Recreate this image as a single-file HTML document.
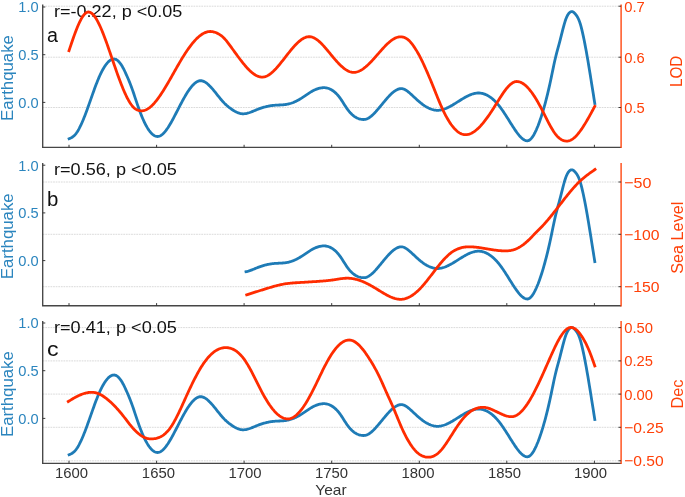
<!DOCTYPE html>
<html><head><meta charset="utf-8"><title>chart</title>
<style>html,body{margin:0;padding:0;background:#fff;}svg{display:block;will-change:transform;}text{font-family:"Liberation Sans",sans-serif;}</style></head>
<body>
<svg width="685" height="497" viewBox="0 0 685 497">
<line x1="42.7" x2="621.1" y1="6.2" y2="6.2" stroke="#cdcdcd" stroke-width="0.75" stroke-dasharray="1.75 0.85"/>
<line x1="42.7" x2="621.1" y1="57.2" y2="57.2" stroke="#cdcdcd" stroke-width="0.75" stroke-dasharray="1.75 0.85"/>
<line x1="42.7" x2="621.1" y1="107.5" y2="107.5" stroke="#cdcdcd" stroke-width="0.75" stroke-dasharray="1.75 0.85"/>
<text x="54.0" y="17.2" font-size="15.9" fill="#111111" textLength="128.36" lengthAdjust="spacingAndGlyphs">r=-0.22, p &lt;0.05</text>
<text x="47.0" y="42.0" font-size="19.4" fill="#111111" text-anchor="start" textLength="10.97" lengthAdjust="spacingAndGlyphs">a</text>
<path d="M69.10 138.70 L69.85 138.39 L70.60 138.05 L71.35 137.67 L72.10 137.24 L72.85 136.74 L73.60 136.16 L74.35 135.48 L75.10 134.70 L75.85 133.80 L76.60 132.79 L77.35 131.67 L78.10 130.44 L78.85 129.12 L79.60 127.71 L80.35 126.20 L81.10 124.62 L81.85 122.96 L82.60 121.23 L83.35 119.44 L84.10 117.58 L84.85 115.67 L85.60 113.71 L86.35 111.71 L87.10 109.67 L87.85 107.60 L88.60 105.51 L89.35 103.39 L90.10 101.26 L90.85 99.13 L91.60 96.99 L92.35 94.86 L93.10 92.75 L93.85 90.66 L94.60 88.60 L95.35 86.57 L96.10 84.58 L96.85 82.64 L97.60 80.75 L98.35 78.93 L99.10 77.17 L99.85 75.49 L100.60 73.87 L101.35 72.34 L102.10 70.87 L102.85 69.49 L103.60 68.19 L104.35 66.96 L105.10 65.82 L105.85 64.76 L106.60 63.78 L107.35 62.89 L108.10 62.09 L108.85 61.38 L109.60 60.76 L110.35 60.23 L111.10 59.79 L111.85 59.45 L112.60 59.20 L113.35 59.05 L114.10 59.00 L114.86 59.07 L115.62 59.29 L116.38 59.64 L117.15 60.12 L117.91 60.73 L118.67 61.46 L119.43 62.32 L120.19 63.28 L120.95 64.36 L121.71 65.55 L122.48 66.83 L123.24 68.22 L124.00 69.70 L124.76 71.26 L125.52 72.89 L126.28 74.57 L127.04 76.29 L127.81 78.01 L128.57 79.77 L129.33 81.59 L130.09 83.47 L130.85 85.45 L131.61 87.51 L132.37 89.64 L133.14 91.83 L133.90 94.06 L134.66 96.33 L135.42 98.61 L136.18 100.88 L136.94 103.14 L137.70 105.37 L138.46 107.56 L139.23 109.68 L139.99 111.73 L140.75 113.72 L141.51 115.63 L142.27 117.47 L143.03 119.23 L143.79 120.92 L144.56 122.53 L145.32 124.06 L146.08 125.51 L146.84 126.88 L147.60 128.16 L148.36 129.36 L149.12 130.47 L149.89 131.49 L150.65 132.42 L151.41 133.26 L152.17 134.01 L152.93 134.66 L153.69 135.22 L154.45 135.67 L155.22 136.03 L155.98 136.29 L156.74 136.45 L157.50 136.50 L158.26 136.44 L159.01 136.28 L159.77 136.01 L160.52 135.64 L161.28 135.18 L162.04 134.63 L162.79 133.99 L163.55 133.26 L164.31 132.46 L165.06 131.58 L165.82 130.64 L166.57 129.63 L167.33 128.56 L168.09 127.43 L168.84 126.25 L169.60 125.02 L170.35 123.75 L171.11 122.43 L171.87 121.09 L172.62 119.71 L173.38 118.31 L174.14 116.88 L174.89 115.43 L175.65 113.98 L176.40 112.51 L177.16 111.04 L177.92 109.56 L178.67 108.09 L179.43 106.63 L180.18 105.18 L180.94 103.74 L181.70 102.32 L182.45 100.91 L183.21 99.53 L183.96 98.17 L184.72 96.84 L185.48 95.54 L186.23 94.27 L186.99 93.05 L187.75 91.86 L188.50 90.71 L189.26 89.61 L190.01 88.56 L190.77 87.56 L191.53 86.62 L192.28 85.74 L193.04 84.91 L193.79 84.15 L194.55 83.46 L195.31 82.84 L196.06 82.29 L196.82 81.82 L197.58 81.42 L198.33 81.11 L199.09 80.88 L199.84 80.75 L200.60 80.70 L201.36 80.74 L202.11 80.87 L202.87 81.08 L203.63 81.36 L204.39 81.72 L205.14 82.14 L205.90 82.63 L206.66 83.18 L207.41 83.78 L208.17 84.44 L208.93 85.14 L209.69 85.88 L210.44 86.67 L211.20 87.49 L211.96 88.34 L212.71 89.21 L213.47 90.11 L214.23 91.03 L214.99 91.96 L215.74 92.91 L216.50 93.86 L217.26 94.81 L218.01 95.77 L218.77 96.71 L219.53 97.65 L220.29 98.58 L221.04 99.49 L221.80 100.38 L222.56 101.24 L223.31 102.07 L224.07 102.87 L224.83 103.64 L225.59 104.37 L226.34 105.07 L227.10 105.74 L227.86 106.39 L228.61 107.01 L229.37 107.60 L230.13 108.17 L230.89 108.73 L231.64 109.26 L232.40 109.77 L233.16 110.25 L233.91 110.71 L234.67 111.15 L235.43 111.56 L236.19 111.95 L236.94 112.31 L237.70 112.63 L238.46 112.93 L239.21 113.18 L239.97 113.40 L240.73 113.57 L241.49 113.70 L242.24 113.77 L243.00 113.80 L243.75 113.78 L244.50 113.72 L245.25 113.63 L246.00 113.51 L246.75 113.35 L247.51 113.17 L248.26 112.97 L249.01 112.74 L249.76 112.49 L250.51 112.23 L251.26 111.95 L252.01 111.66 L252.76 111.36 L253.51 111.05 L254.26 110.74 L255.01 110.42 L255.77 110.11 L256.52 109.80 L257.27 109.49 L258.02 109.19 L258.77 108.90 L259.52 108.63 L260.27 108.36 L261.02 108.10 L261.77 107.86 L262.52 107.62 L263.27 107.40 L264.03 107.18 L264.78 106.98 L265.53 106.78 L266.28 106.60 L267.03 106.43 L267.78 106.27 L268.53 106.11 L269.28 105.97 L270.03 105.84 L270.78 105.72 L271.54 105.61 L272.29 105.51 L273.04 105.43 L273.79 105.35 L274.54 105.28 L275.29 105.22 L276.04 105.17 L276.79 105.13 L277.54 105.09 L278.29 105.06 L279.04 105.02 L279.80 104.99 L280.55 104.95 L281.30 104.91 L282.05 104.87 L282.80 104.81 L283.55 104.75 L284.30 104.68 L285.05 104.59 L285.80 104.49 L286.55 104.38 L287.30 104.24 L288.06 104.09 L288.81 103.91 L289.56 103.72 L290.31 103.50 L291.06 103.27 L291.81 103.01 L292.56 102.74 L293.31 102.45 L294.06 102.14 L294.81 101.81 L295.56 101.47 L296.32 101.11 L297.07 100.73 L297.82 100.33 L298.57 99.92 L299.32 99.50 L300.07 99.06 L300.82 98.60 L301.57 98.14 L302.32 97.66 L303.07 97.16 L303.83 96.66 L304.58 96.15 L305.33 95.63 L306.08 95.12 L306.83 94.60 L307.58 94.09 L308.33 93.59 L309.08 93.09 L309.83 92.61 L310.58 92.14 L311.33 91.68 L312.09 91.25 L312.84 90.84 L313.59 90.45 L314.34 90.09 L315.09 89.75 L315.84 89.43 L316.59 89.14 L317.34 88.87 L318.09 88.63 L318.84 88.42 L319.59 88.23 L320.35 88.07 L321.10 87.94 L321.85 87.83 L322.60 87.76 L323.35 87.72 L324.10 87.70 L324.86 87.72 L325.63 87.79 L326.39 87.90 L327.15 88.06 L327.92 88.27 L328.68 88.52 L329.44 88.81 L330.21 89.16 L330.97 89.55 L331.73 89.98 L332.50 90.46 L333.26 90.99 L334.03 91.57 L334.79 92.20 L335.55 92.88 L336.32 93.61 L337.08 94.40 L337.84 95.24 L338.61 96.15 L339.37 97.11 L340.13 98.13 L340.90 99.21 L341.66 100.35 L342.42 101.52 L343.19 102.72 L343.95 103.94 L344.71 105.15 L345.48 106.35 L346.24 107.52 L347.00 108.64 L347.77 109.71 L348.53 110.71 L349.29 111.65 L350.06 112.53 L350.82 113.35 L351.58 114.11 L352.35 114.81 L353.11 115.46 L353.88 116.06 L354.64 116.60 L355.40 117.09 L356.17 117.53 L356.93 117.93 L357.69 118.27 L358.46 118.57 L359.22 118.83 L359.98 119.04 L360.75 119.21 L361.51 119.34 L362.27 119.43 L363.04 119.48 L363.80 119.50 L364.55 119.46 L365.30 119.34 L366.06 119.15 L366.81 118.90 L367.56 118.57 L368.31 118.18 L369.06 117.74 L369.82 117.23 L370.57 116.68 L371.32 116.08 L372.07 115.43 L372.82 114.74 L373.58 114.02 L374.33 113.26 L375.08 112.46 L375.83 111.65 L376.58 110.80 L377.34 109.94 L378.09 109.06 L378.84 108.17 L379.59 107.27 L380.34 106.35 L381.10 105.44 L381.85 104.52 L382.60 103.60 L383.35 102.68 L384.10 101.77 L384.86 100.87 L385.61 99.98 L386.36 99.10 L387.11 98.24 L387.86 97.40 L388.62 96.58 L389.37 95.78 L390.12 95.02 L390.87 94.28 L391.62 93.57 L392.38 92.90 L393.13 92.27 L393.88 91.68 L394.63 91.13 L395.38 90.63 L396.14 90.17 L396.89 89.77 L397.64 89.43 L398.39 89.14 L399.14 88.91 L399.90 88.74 L400.65 88.63 L401.40 88.60 L402.15 88.65 L402.90 88.80 L403.66 89.03 L404.41 89.34 L405.16 89.73 L405.91 90.17 L406.66 90.67 L407.42 91.21 L408.17 91.80 L408.92 92.41 L409.67 93.04 L410.42 93.69 L411.18 94.36 L411.93 95.05 L412.68 95.74 L413.43 96.44 L414.19 97.15 L414.94 97.85 L415.69 98.55 L416.44 99.25 L417.19 99.93 L417.95 100.60 L418.70 101.26 L419.45 101.90 L420.20 102.52 L420.95 103.13 L421.71 103.72 L422.46 104.29 L423.21 104.84 L423.96 105.36 L424.71 105.86 L425.47 106.34 L426.22 106.79 L426.97 107.22 L427.72 107.62 L428.48 108.00 L429.23 108.35 L429.98 108.67 L430.73 108.97 L431.48 109.24 L432.24 109.48 L432.99 109.70 L433.74 109.88 L434.49 110.03 L435.24 110.15 L436.00 110.23 L436.75 110.28 L437.50 110.30 L438.26 110.28 L439.02 110.23 L439.78 110.15 L440.54 110.03 L441.30 109.89 L442.06 109.71 L442.81 109.51 L443.57 109.28 L444.33 109.03 L445.09 108.76 L445.85 108.46 L446.61 108.14 L447.37 107.80 L448.13 107.44 L448.89 107.06 L449.65 106.67 L450.41 106.26 L451.17 105.84 L451.93 105.41 L452.69 104.97 L453.44 104.51 L454.20 104.05 L454.96 103.59 L455.72 103.11 L456.48 102.64 L457.24 102.16 L458.00 101.68 L458.76 101.20 L459.52 100.72 L460.28 100.24 L461.04 99.76 L461.80 99.30 L462.56 98.83 L463.31 98.38 L464.07 97.94 L464.83 97.50 L465.59 97.08 L466.35 96.67 L467.11 96.28 L467.87 95.90 L468.63 95.54 L469.39 95.19 L470.15 94.87 L470.91 94.57 L471.67 94.29 L472.43 94.03 L473.19 93.80 L473.94 93.60 L474.70 93.42 L475.46 93.27 L476.22 93.15 L476.98 93.07 L477.74 93.02 L478.50 93.00 L479.25 93.02 L480.00 93.07 L480.76 93.15 L481.51 93.27 L482.26 93.43 L483.01 93.61 L483.77 93.83 L484.52 94.09 L485.27 94.38 L486.02 94.70 L486.78 95.06 L487.53 95.45 L488.28 95.88 L489.03 96.34 L489.78 96.84 L490.54 97.37 L491.29 97.93 L492.04 98.53 L492.79 99.16 L493.55 99.83 L494.30 100.53 L495.05 101.27 L495.80 102.04 L496.56 102.84 L497.31 103.68 L498.06 104.56 L498.81 105.47 L499.56 106.41 L500.32 107.39 L501.07 108.40 L501.82 109.45 L502.57 110.52 L503.33 111.62 L504.08 112.74 L504.83 113.89 L505.58 115.05 L506.34 116.22 L507.09 117.41 L507.84 118.60 L508.59 119.80 L509.34 121.00 L510.10 122.20 L510.85 123.40 L511.60 124.59 L512.35 125.78 L513.11 126.95 L513.86 128.10 L514.61 129.24 L515.36 130.35 L516.12 131.43 L516.87 132.48 L517.62 133.48 L518.37 134.45 L519.12 135.36 L519.88 136.23 L520.63 137.03 L521.38 137.77 L522.13 138.44 L522.89 139.04 L523.64 139.55 L524.39 139.99 L525.14 140.34 L525.90 140.59 L526.65 140.75 L527.40 140.80 L528.15 140.71 L528.91 140.44 L529.66 140.00 L530.41 139.39 L531.16 138.63 L531.92 137.72 L532.67 136.67 L533.42 135.49 L534.17 134.18 L534.93 132.75 L535.68 131.21 L536.43 129.57 L537.18 127.82 L537.94 125.97 L538.69 124.02 L539.44 121.97 L540.19 119.83 L540.95 117.59 L541.70 115.26 L542.45 112.84 L543.20 110.33 L543.96 107.73 L544.71 105.05 L545.46 102.27 L546.21 99.40 L546.97 96.43 L547.72 93.36 L548.47 90.18 L549.22 86.89 L549.98 83.50 L550.73 79.99 L551.48 76.39 L552.23 72.75 L552.99 69.11 L553.74 65.53 L554.49 62.05 L555.24 58.71 L556.00 55.57 L556.75 52.62 L557.50 49.79 L558.25 47.04 L559.01 44.31 L559.76 41.54 L560.51 38.68 L561.26 35.71 L562.02 32.69 L562.77 29.70 L563.52 26.79 L564.27 24.05 L565.03 21.54 L565.78 19.32 L566.53 17.40 L567.28 15.79 L568.04 14.45 L568.79 13.39 L569.54 12.59 L570.29 12.03 L571.05 11.71 L571.80 11.60 L572.57 11.74 L573.33 12.12 L574.10 12.72 L574.87 13.49 L575.63 14.39 L576.40 15.39 L577.17 16.53 L577.93 17.87 L578.70 19.48 L579.47 21.41 L580.23 23.72 L581.00 26.38 L581.77 29.36 L582.53 32.61 L583.30 36.10 L584.07 39.78 L584.83 43.64 L585.60 47.65 L586.37 51.82 L587.13 56.14 L587.90 60.60 L588.67 65.18 L589.43 69.85 L590.20 74.59 L590.97 79.38 L591.73 84.19 L592.50 89.01 L593.27 93.84 L594.03 98.67 L594.80 103.50" fill="none" stroke="#1e7bb6" stroke-width="2.8" stroke-linecap="square" stroke-linejoin="round"/>
<path d="M69.00 50.70 L69.78 48.38 L70.55 46.07 L71.33 43.77 L72.10 41.49 L72.88 39.24 L73.66 37.04 L74.43 34.87 L75.21 32.76 L75.98 30.70 L76.76 28.72 L77.54 26.81 L78.31 24.98 L79.09 23.23 L79.86 21.59 L80.64 20.05 L81.42 18.62 L82.19 17.31 L82.97 16.13 L83.74 15.08 L84.52 14.17 L85.30 13.41 L86.07 12.80 L86.85 12.36 L87.62 12.09 L88.40 12.00 L89.15 12.07 L89.90 12.28 L90.65 12.62 L91.40 13.09 L92.15 13.68 L92.90 14.39 L93.65 15.21 L94.41 16.15 L95.16 17.19 L95.91 18.33 L96.66 19.57 L97.41 20.89 L98.16 22.31 L98.91 23.81 L99.66 25.38 L100.41 27.03 L101.16 28.75 L101.91 30.53 L102.66 32.37 L103.41 34.26 L104.16 36.21 L104.92 38.20 L105.67 40.23 L106.42 42.30 L107.17 44.40 L107.92 46.52 L108.67 48.67 L109.42 50.84 L110.17 53.02 L110.92 55.21 L111.67 57.41 L112.42 59.61 L113.17 61.80 L113.92 63.98 L114.67 66.16 L115.43 68.32 L116.18 70.46 L116.93 72.59 L117.68 74.68 L118.43 76.76 L119.18 78.80 L119.93 80.81 L120.68 82.78 L121.43 84.71 L122.18 86.59 L122.93 88.43 L123.68 90.21 L124.43 91.95 L125.18 93.62 L125.94 95.23 L126.69 96.78 L127.44 98.26 L128.19 99.67 L128.94 101.00 L129.69 102.26 L130.44 103.43 L131.19 104.52 L131.94 105.52 L132.69 106.43 L133.44 107.24 L134.19 107.96 L134.94 108.58 L135.69 109.11 L136.45 109.55 L137.20 109.92 L137.95 110.21 L138.70 110.44 L139.45 110.61 L140.20 110.72 L140.95 110.78 L141.70 110.80 L142.45 110.77 L143.21 110.67 L143.96 110.52 L144.72 110.30 L145.47 110.03 L146.22 109.70 L146.98 109.32 L147.73 108.88 L148.48 108.39 L149.24 107.85 L149.99 107.27 L150.75 106.64 L151.50 105.96 L152.25 105.24 L153.01 104.47 L153.76 103.67 L154.52 102.83 L155.27 101.95 L156.02 101.03 L156.78 100.08 L157.53 99.10 L158.28 98.09 L159.04 97.04 L159.79 95.97 L160.55 94.87 L161.30 93.74 L162.05 92.59 L162.81 91.42 L163.56 90.23 L164.32 89.01 L165.07 87.78 L165.82 86.53 L166.58 85.27 L167.33 83.99 L168.08 82.70 L168.84 81.40 L169.59 80.09 L170.35 78.77 L171.10 77.45 L171.85 76.12 L172.61 74.79 L173.36 73.45 L174.12 72.12 L174.87 70.78 L175.62 69.45 L176.38 68.13 L177.13 66.81 L177.88 65.49 L178.64 64.19 L179.39 62.89 L180.15 61.61 L180.90 60.34 L181.65 59.08 L182.41 57.84 L183.16 56.62 L183.92 55.41 L184.67 54.23 L185.42 53.06 L186.18 51.92 L186.93 50.80 L187.68 49.70 L188.44 48.62 L189.19 47.57 L189.95 46.55 L190.70 45.55 L191.45 44.57 L192.21 43.63 L192.96 42.71 L193.72 41.83 L194.47 40.97 L195.22 40.15 L195.98 39.35 L196.73 38.59 L197.48 37.87 L198.24 37.18 L198.99 36.52 L199.75 35.90 L200.50 35.32 L201.25 34.77 L202.01 34.27 L202.76 33.80 L203.52 33.38 L204.27 32.99 L205.02 32.65 L205.78 32.35 L206.53 32.09 L207.28 31.88 L208.04 31.72 L208.79 31.60 L209.55 31.52 L210.30 31.50 L211.05 31.52 L211.80 31.59 L212.56 31.69 L213.31 31.84 L214.06 32.02 L214.81 32.24 L215.57 32.51 L216.32 32.80 L217.07 33.14 L217.82 33.51 L218.57 33.91 L219.33 34.35 L220.08 34.83 L220.83 35.35 L221.58 35.92 L222.33 36.54 L223.09 37.21 L223.84 37.94 L224.59 38.72 L225.34 39.56 L226.10 40.45 L226.85 41.38 L227.60 42.34 L228.35 43.33 L229.10 44.34 L229.86 45.37 L230.61 46.40 L231.36 47.43 L232.11 48.47 L232.87 49.51 L233.62 50.54 L234.37 51.58 L235.12 52.62 L235.87 53.65 L236.63 54.68 L237.38 55.71 L238.13 56.72 L238.88 57.74 L239.63 58.74 L240.39 59.73 L241.14 60.71 L241.89 61.68 L242.64 62.63 L243.40 63.56 L244.15 64.48 L244.90 65.37 L245.65 66.25 L246.40 67.10 L247.16 67.93 L247.91 68.73 L248.66 69.51 L249.41 70.26 L250.17 70.97 L250.92 71.66 L251.67 72.31 L252.42 72.93 L253.17 73.51 L253.93 74.05 L254.68 74.56 L255.43 75.02 L256.18 75.44 L256.93 75.82 L257.69 76.15 L258.44 76.43 L259.19 76.67 L259.94 76.86 L260.70 76.99 L261.45 77.07 L262.20 77.10 L262.96 77.07 L263.72 76.97 L264.48 76.82 L265.24 76.60 L266.00 76.33 L266.76 76.01 L267.52 75.63 L268.28 75.21 L269.04 74.74 L269.80 74.22 L270.56 73.65 L271.32 73.05 L272.08 72.41 L272.84 71.73 L273.60 71.02 L274.35 70.27 L275.11 69.49 L275.87 68.69 L276.63 67.85 L277.39 67.00 L278.15 66.12 L278.91 65.23 L279.67 64.31 L280.43 63.38 L281.19 62.44 L281.95 61.48 L282.71 60.52 L283.47 59.55 L284.23 58.58 L284.99 57.60 L285.75 56.62 L286.51 55.65 L287.27 54.67 L288.03 53.71 L288.79 52.75 L289.55 51.80 L290.31 50.86 L291.07 49.93 L291.83 49.02 L292.59 48.13 L293.35 47.26 L294.11 46.40 L294.87 45.57 L295.63 44.77 L296.39 43.99 L297.15 43.24 L297.90 42.52 L298.66 41.83 L299.42 41.18 L300.18 40.56 L300.94 39.98 L301.70 39.45 L302.46 38.95 L303.22 38.50 L303.98 38.09 L304.74 37.74 L305.50 37.43 L306.26 37.17 L307.02 36.97 L307.78 36.82 L308.54 36.73 L309.30 36.70 L310.05 36.73 L310.81 36.83 L311.56 36.99 L312.31 37.20 L313.06 37.48 L313.82 37.81 L314.57 38.19 L315.32 38.61 L316.07 39.09 L316.83 39.61 L317.58 40.18 L318.33 40.78 L319.08 41.42 L319.84 42.09 L320.59 42.80 L321.34 43.54 L322.09 44.31 L322.85 45.10 L323.60 45.92 L324.35 46.75 L325.10 47.61 L325.86 48.48 L326.61 49.36 L327.36 50.26 L328.11 51.16 L328.87 52.07 L329.62 52.99 L330.37 53.90 L331.12 54.82 L331.88 55.73 L332.63 56.64 L333.38 57.53 L334.13 58.42 L334.89 59.30 L335.64 60.16 L336.39 61.01 L337.14 61.84 L337.90 62.66 L338.65 63.45 L339.40 64.22 L340.15 64.96 L340.91 65.69 L341.66 66.38 L342.41 67.04 L343.16 67.68 L343.92 68.28 L344.67 68.85 L345.42 69.38 L346.17 69.88 L346.93 70.33 L347.68 70.75 L348.43 71.12 L349.18 71.45 L349.94 71.73 L350.69 71.97 L351.44 72.16 L352.19 72.29 L352.95 72.37 L353.70 72.40 L354.45 72.37 L355.21 72.30 L355.96 72.17 L356.72 72.00 L357.47 71.78 L358.23 71.51 L358.98 71.20 L359.74 70.85 L360.49 70.46 L361.25 70.04 L362.00 69.57 L362.76 69.07 L363.51 68.54 L364.27 67.97 L365.02 67.38 L365.78 66.76 L366.53 66.11 L367.29 65.43 L368.04 64.73 L368.80 64.01 L369.55 63.26 L370.31 62.50 L371.06 61.72 L371.82 60.92 L372.57 60.11 L373.33 59.29 L374.08 58.45 L374.84 57.61 L375.59 56.76 L376.35 55.90 L377.10 55.04 L377.85 54.17 L378.61 53.31 L379.36 52.44 L380.12 51.58 L380.87 50.73 L381.63 49.88 L382.38 49.04 L383.14 48.21 L383.89 47.40 L384.65 46.60 L385.40 45.82 L386.16 45.06 L386.91 44.32 L387.67 43.60 L388.42 42.91 L389.18 42.24 L389.93 41.60 L390.69 41.00 L391.44 40.42 L392.20 39.88 L392.95 39.38 L393.71 38.92 L394.46 38.49 L395.22 38.11 L395.97 37.78 L396.73 37.49 L397.48 37.24 L398.24 37.05 L398.99 36.91 L399.75 36.83 L400.50 36.80 L401.26 36.82 L402.01 36.90 L402.77 37.03 L403.52 37.22 L404.28 37.46 L405.03 37.77 L405.79 38.15 L406.55 38.59 L407.30 39.11 L408.06 39.70 L408.81 40.36 L409.57 41.10 L410.33 41.91 L411.08 42.79 L411.84 43.73 L412.59 44.72 L413.35 45.77 L414.10 46.86 L414.86 48.00 L415.62 49.17 L416.37 50.39 L417.13 51.64 L417.88 52.94 L418.64 54.28 L419.40 55.67 L420.15 57.11 L420.91 58.59 L421.66 60.11 L422.42 61.67 L423.17 63.27 L423.93 64.90 L424.69 66.56 L425.44 68.24 L426.20 69.95 L426.95 71.67 L427.71 73.41 L428.47 75.18 L429.22 76.95 L429.98 78.75 L430.73 80.56 L431.49 82.39 L432.24 84.24 L433.00 86.10 L433.76 87.98 L434.51 89.86 L435.27 91.76 L436.02 93.65 L436.78 95.53 L437.53 97.41 L438.29 99.27 L439.05 101.10 L439.80 102.91 L440.56 104.68 L441.31 106.41 L442.07 108.10 L442.83 109.74 L443.58 111.33 L444.34 112.87 L445.09 114.36 L445.85 115.80 L446.60 117.19 L447.36 118.53 L448.12 119.82 L448.87 121.06 L449.63 122.25 L450.38 123.39 L451.14 124.47 L451.90 125.50 L452.65 126.48 L453.41 127.40 L454.16 128.27 L454.92 129.09 L455.67 129.85 L456.43 130.56 L457.19 131.22 L457.94 131.82 L458.70 132.36 L459.45 132.85 L460.21 133.28 L460.97 133.65 L461.72 133.97 L462.48 134.23 L463.23 134.44 L463.99 134.58 L464.74 134.67 L465.50 134.70 L466.25 134.67 L467.01 134.60 L467.76 134.48 L468.52 134.30 L469.27 134.08 L470.03 133.82 L470.78 133.51 L471.54 133.16 L472.29 132.76 L473.04 132.32 L473.80 131.84 L474.55 131.32 L475.31 130.77 L476.06 130.17 L476.82 129.54 L477.57 128.87 L478.32 128.17 L479.08 127.43 L479.83 126.67 L480.59 125.87 L481.34 125.03 L482.10 124.17 L482.85 123.29 L483.61 122.37 L484.36 121.43 L485.11 120.46 L485.87 119.47 L486.62 118.45 L487.38 117.41 L488.13 116.35 L488.89 115.28 L489.64 114.18 L490.40 113.06 L491.15 111.92 L491.90 110.77 L492.66 109.61 L493.41 108.43 L494.17 107.23 L494.92 106.03 L495.68 104.82 L496.43 103.60 L497.19 102.38 L497.94 101.16 L498.69 99.95 L499.45 98.75 L500.20 97.56 L500.96 96.39 L501.71 95.23 L502.47 94.10 L503.22 92.99 L503.97 91.92 L504.73 90.87 L505.48 89.87 L506.24 88.90 L506.99 87.98 L507.75 87.10 L508.50 86.28 L509.26 85.51 L510.01 84.79 L510.76 84.14 L511.52 83.55 L512.27 83.02 L513.03 82.57 L513.78 82.20 L514.54 81.90 L515.29 81.68 L516.05 81.55 L516.80 81.50 L517.56 81.53 L518.32 81.63 L519.07 81.78 L519.83 82.00 L520.59 82.28 L521.35 82.62 L522.10 83.01 L522.86 83.46 L523.62 83.96 L524.38 84.52 L525.13 85.13 L525.89 85.79 L526.65 86.51 L527.41 87.27 L528.16 88.08 L528.92 88.93 L529.68 89.83 L530.44 90.78 L531.19 91.76 L531.95 92.79 L532.71 93.86 L533.47 94.97 L534.22 96.12 L534.98 97.30 L535.74 98.52 L536.50 99.78 L537.25 101.06 L538.01 102.38 L538.77 103.74 L539.53 105.12 L540.28 106.53 L541.04 107.96 L541.80 109.42 L542.56 110.91 L543.32 112.40 L544.07 113.91 L544.83 115.41 L545.59 116.92 L546.35 118.42 L547.10 119.91 L547.86 121.39 L548.62 122.84 L549.38 124.26 L550.13 125.65 L550.89 127.01 L551.65 128.32 L552.41 129.58 L553.16 130.79 L553.92 131.94 L554.68 133.03 L555.44 134.05 L556.19 134.99 L556.95 135.87 L557.71 136.67 L558.47 137.40 L559.22 138.06 L559.98 138.65 L560.74 139.18 L561.50 139.64 L562.25 140.03 L563.01 140.36 L563.77 140.63 L564.53 140.84 L565.28 140.98 L566.04 141.07 L566.80 141.10 L567.56 141.06 L568.31 140.95 L569.07 140.77 L569.83 140.51 L570.58 140.19 L571.34 139.80 L572.10 139.35 L572.85 138.84 L573.61 138.26 L574.37 137.63 L575.12 136.94 L575.88 136.20 L576.64 135.41 L577.39 134.57 L578.15 133.68 L578.91 132.75 L579.66 131.77 L580.42 130.75 L581.18 129.69 L581.94 128.60 L582.69 127.47 L583.45 126.30 L584.21 125.11 L584.96 123.89 L585.72 122.64 L586.48 121.36 L587.23 120.06 L587.99 118.75 L588.75 117.41 L589.50 116.06 L590.26 114.69 L591.02 113.31 L591.77 111.92 L592.53 110.52 L593.29 109.12 L594.04 107.71 L594.80 106.30" fill="none" stroke="#ff2c00" stroke-width="2.8" stroke-linecap="square" stroke-linejoin="round"/>
<path d="M42.7 4.6 L42.7 147.4 L621.1 147.4" fill="none" stroke="#464646" stroke-width="1.35"/>
<line x1="621.1" x2="621.1" y1="4.6" y2="148.1" stroke="#ff4109" stroke-width="1.35"/>
<line x1="42.7" x2="45.300000000000004" y1="7.0" y2="7.0" stroke="#303030" stroke-width="0.95"/>
<text x="38.7" y="12.4" font-size="15.1" fill="#2b85be" text-anchor="end" textLength="20.36" lengthAdjust="spacingAndGlyphs">1.0</text>
<line x1="42.7" x2="45.300000000000004" y1="54.7" y2="54.7" stroke="#303030" stroke-width="0.95"/>
<text x="38.7" y="60.1" font-size="15.1" fill="#2b85be" text-anchor="end" textLength="20.36" lengthAdjust="spacingAndGlyphs">0.5</text>
<line x1="42.7" x2="45.300000000000004" y1="102.4" y2="102.4" stroke="#303030" stroke-width="0.95"/>
<text x="38.7" y="107.8" font-size="15.1" fill="#2b85be" text-anchor="end" textLength="20.36" lengthAdjust="spacingAndGlyphs">0.0</text>
<line x1="618.5" x2="621.1" y1="6.2" y2="6.2" stroke="#303030" stroke-width="0.95"/>
<text x="624.2" y="11.7" font-size="15.1" fill="#ff4109" text-anchor="start" textLength="20.52" lengthAdjust="spacingAndGlyphs">0.7</text>
<line x1="618.5" x2="621.1" y1="57.2" y2="57.2" stroke="#303030" stroke-width="0.95"/>
<text x="624.2" y="62.7" font-size="15.1" fill="#ff4109" text-anchor="start" textLength="20.52" lengthAdjust="spacingAndGlyphs">0.6</text>
<line x1="618.5" x2="621.1" y1="107.5" y2="107.5" stroke="#303030" stroke-width="0.95"/>
<text x="624.2" y="113.0" font-size="15.1" fill="#ff4109" text-anchor="start" textLength="20.52" lengthAdjust="spacingAndGlyphs">0.5</text>
<line x1="69.0" x2="69.0" y1="147.4" y2="144.8" stroke="#303030" stroke-width="0.95"/>
<line x1="156.6" x2="156.6" y1="147.4" y2="144.8" stroke="#303030" stroke-width="0.95"/>
<line x1="244.1" x2="244.1" y1="147.4" y2="144.8" stroke="#303030" stroke-width="0.95"/>
<line x1="331.7" x2="331.7" y1="147.4" y2="144.8" stroke="#303030" stroke-width="0.95"/>
<line x1="419.3" x2="419.3" y1="147.4" y2="144.8" stroke="#303030" stroke-width="0.95"/>
<line x1="506.8" x2="506.8" y1="147.4" y2="144.8" stroke="#303030" stroke-width="0.95"/>
<line x1="594.4" x2="594.4" y1="147.4" y2="144.8" stroke="#303030" stroke-width="0.95"/>
<text x="12.7" y="78.0" font-size="15.8" fill="#2b85be" text-anchor="middle" textLength="85.83" lengthAdjust="spacingAndGlyphs" transform="rotate(-90 12.7 78.0)">Earthquake</text>
<text x="681.8" y="71.4" font-size="15.8" fill="#ff4109" text-anchor="middle" textLength="31.18" lengthAdjust="spacingAndGlyphs" transform="rotate(-90 681.8 71.4)">LOD</text>
<line x1="42.7" x2="621.1" y1="182.0" y2="182.0" stroke="#cdcdcd" stroke-width="0.75" stroke-dasharray="1.75 0.85"/>
<line x1="42.7" x2="621.1" y1="234.3" y2="234.3" stroke="#cdcdcd" stroke-width="0.75" stroke-dasharray="1.75 0.85"/>
<line x1="42.7" x2="621.1" y1="286.7" y2="286.7" stroke="#cdcdcd" stroke-width="0.75" stroke-dasharray="1.75 0.85"/>
<text x="54.0" y="175.3" font-size="15.9" fill="#111111" textLength="122.90" lengthAdjust="spacingAndGlyphs">r=0.56, p &lt;0.05</text>
<text x="47.0" y="205.7" font-size="19.4" fill="#111111" text-anchor="start" textLength="11.36" lengthAdjust="spacingAndGlyphs">b</text>
<path d="M246.00 271.71 L246.75 271.55 L247.51 271.37 L248.26 271.17 L249.01 270.94 L249.76 270.69 L250.51 270.43 L251.26 270.15 L252.01 269.86 L252.76 269.56 L253.51 269.25 L254.26 268.94 L255.01 268.62 L255.77 268.31 L256.52 268.00 L257.27 267.69 L258.02 267.39 L258.77 267.10 L259.52 266.83 L260.27 266.56 L261.02 266.30 L261.77 266.06 L262.52 265.82 L263.27 265.60 L264.03 265.38 L264.78 265.18 L265.53 264.98 L266.28 264.80 L267.03 264.63 L267.78 264.47 L268.53 264.31 L269.28 264.17 L270.03 264.04 L270.78 263.92 L271.54 263.81 L272.29 263.71 L273.04 263.63 L273.79 263.55 L274.54 263.48 L275.29 263.42 L276.04 263.37 L276.79 263.33 L277.54 263.29 L278.29 263.26 L279.04 263.22 L279.80 263.19 L280.55 263.15 L281.30 263.11 L282.05 263.07 L282.80 263.01 L283.55 262.95 L284.30 262.88 L285.05 262.79 L285.80 262.69 L286.55 262.58 L287.30 262.44 L288.06 262.29 L288.81 262.11 L289.56 261.92 L290.31 261.70 L291.06 261.47 L291.81 261.21 L292.56 260.94 L293.31 260.65 L294.06 260.34 L294.81 260.01 L295.56 259.67 L296.32 259.31 L297.07 258.93 L297.82 258.53 L298.57 258.12 L299.32 257.70 L300.07 257.26 L300.82 256.80 L301.57 256.34 L302.32 255.86 L303.07 255.36 L303.83 254.86 L304.58 254.35 L305.33 253.83 L306.08 253.32 L306.83 252.80 L307.58 252.29 L308.33 251.79 L309.08 251.29 L309.83 250.81 L310.58 250.34 L311.33 249.88 L312.09 249.45 L312.84 249.04 L313.59 248.65 L314.34 248.29 L315.09 247.95 L315.84 247.63 L316.59 247.34 L317.34 247.07 L318.09 246.83 L318.84 246.62 L319.59 246.43 L320.35 246.27 L321.10 246.14 L321.85 246.03 L322.60 245.96 L323.35 245.92 L324.10 245.90 L324.86 245.92 L325.63 245.99 L326.39 246.10 L327.15 246.26 L327.92 246.47 L328.68 246.72 L329.44 247.01 L330.21 247.36 L330.97 247.75 L331.73 248.18 L332.50 248.66 L333.26 249.19 L334.03 249.77 L334.79 250.40 L335.55 251.08 L336.32 251.81 L337.08 252.60 L337.84 253.44 L338.61 254.35 L339.37 255.31 L340.13 256.33 L340.90 257.41 L341.66 258.55 L342.42 259.72 L343.19 260.92 L343.95 262.14 L344.71 263.35 L345.48 264.55 L346.24 265.72 L347.00 266.84 L347.77 267.91 L348.53 268.91 L349.29 269.85 L350.06 270.73 L350.82 271.55 L351.58 272.31 L352.35 273.01 L353.11 273.66 L353.88 274.26 L354.64 274.80 L355.40 275.29 L356.17 275.73 L356.93 276.13 L357.69 276.47 L358.46 276.77 L359.22 277.03 L359.98 277.24 L360.75 277.41 L361.51 277.54 L362.27 277.63 L363.04 277.68 L363.80 277.70 L364.55 277.66 L365.30 277.54 L366.06 277.35 L366.81 277.10 L367.56 276.77 L368.31 276.38 L369.06 275.94 L369.82 275.43 L370.57 274.88 L371.32 274.28 L372.07 273.63 L372.82 272.94 L373.58 272.22 L374.33 271.46 L375.08 270.66 L375.83 269.85 L376.58 269.00 L377.34 268.14 L378.09 267.26 L378.84 266.37 L379.59 265.47 L380.34 264.55 L381.10 263.64 L381.85 262.72 L382.60 261.80 L383.35 260.88 L384.10 259.97 L384.86 259.07 L385.61 258.18 L386.36 257.30 L387.11 256.44 L387.86 255.60 L388.62 254.78 L389.37 253.98 L390.12 253.22 L390.87 252.48 L391.62 251.77 L392.38 251.10 L393.13 250.47 L393.88 249.88 L394.63 249.33 L395.38 248.83 L396.14 248.37 L396.89 247.97 L397.64 247.63 L398.39 247.34 L399.14 247.11 L399.90 246.94 L400.65 246.83 L401.40 246.80 L402.15 246.85 L402.90 247.00 L403.66 247.23 L404.41 247.54 L405.16 247.93 L405.91 248.37 L406.66 248.87 L407.42 249.41 L408.17 250.00 L408.92 250.61 L409.67 251.24 L410.42 251.89 L411.18 252.56 L411.93 253.25 L412.68 253.94 L413.43 254.64 L414.19 255.35 L414.94 256.05 L415.69 256.75 L416.44 257.45 L417.19 258.13 L417.95 258.80 L418.70 259.46 L419.45 260.10 L420.20 260.72 L420.95 261.33 L421.71 261.92 L422.46 262.49 L423.21 263.04 L423.96 263.56 L424.71 264.06 L425.47 264.54 L426.22 264.99 L426.97 265.42 L427.72 265.82 L428.48 266.20 L429.23 266.55 L429.98 266.87 L430.73 267.17 L431.48 267.44 L432.24 267.68 L432.99 267.90 L433.74 268.08 L434.49 268.23 L435.24 268.35 L436.00 268.43 L436.75 268.48 L437.50 268.50 L438.26 268.48 L439.02 268.43 L439.78 268.35 L440.54 268.23 L441.30 268.09 L442.06 267.91 L442.81 267.71 L443.57 267.48 L444.33 267.23 L445.09 266.96 L445.85 266.66 L446.61 266.34 L447.37 266.00 L448.13 265.64 L448.89 265.26 L449.65 264.87 L450.41 264.46 L451.17 264.04 L451.93 263.61 L452.69 263.17 L453.44 262.71 L454.20 262.25 L454.96 261.79 L455.72 261.31 L456.48 260.84 L457.24 260.36 L458.00 259.88 L458.76 259.40 L459.52 258.92 L460.28 258.44 L461.04 257.96 L461.80 257.50 L462.56 257.03 L463.31 256.58 L464.07 256.14 L464.83 255.70 L465.59 255.28 L466.35 254.87 L467.11 254.48 L467.87 254.10 L468.63 253.74 L469.39 253.39 L470.15 253.07 L470.91 252.77 L471.67 252.49 L472.43 252.23 L473.19 252.00 L473.94 251.80 L474.70 251.62 L475.46 251.47 L476.22 251.35 L476.98 251.27 L477.74 251.22 L478.50 251.20 L479.25 251.22 L480.00 251.27 L480.76 251.35 L481.51 251.47 L482.26 251.63 L483.01 251.81 L483.77 252.03 L484.52 252.29 L485.27 252.58 L486.02 252.90 L486.78 253.26 L487.53 253.65 L488.28 254.08 L489.03 254.54 L489.78 255.04 L490.54 255.57 L491.29 256.13 L492.04 256.73 L492.79 257.36 L493.55 258.03 L494.30 258.73 L495.05 259.47 L495.80 260.24 L496.56 261.04 L497.31 261.88 L498.06 262.76 L498.81 263.67 L499.56 264.61 L500.32 265.59 L501.07 266.60 L501.82 267.65 L502.57 268.72 L503.33 269.82 L504.08 270.94 L504.83 272.09 L505.58 273.25 L506.34 274.42 L507.09 275.61 L507.84 276.80 L508.59 278.00 L509.34 279.20 L510.10 280.40 L510.85 281.60 L511.60 282.79 L512.35 283.98 L513.11 285.15 L513.86 286.30 L514.61 287.44 L515.36 288.55 L516.12 289.63 L516.87 290.68 L517.62 291.68 L518.37 292.65 L519.12 293.56 L519.88 294.43 L520.63 295.23 L521.38 295.97 L522.13 296.64 L522.89 297.24 L523.64 297.75 L524.39 298.19 L525.14 298.54 L525.90 298.79 L526.65 298.95 L527.40 299.00 L528.15 298.91 L528.91 298.64 L529.66 298.20 L530.41 297.59 L531.16 296.83 L531.92 295.92 L532.67 294.87 L533.42 293.69 L534.17 292.38 L534.93 290.95 L535.68 289.41 L536.43 287.77 L537.18 286.02 L537.94 284.17 L538.69 282.22 L539.44 280.17 L540.19 278.03 L540.95 275.79 L541.70 273.46 L542.45 271.04 L543.20 268.53 L543.96 265.93 L544.71 263.25 L545.46 260.47 L546.21 257.60 L546.97 254.63 L547.72 251.56 L548.47 248.38 L549.22 245.09 L549.98 241.70 L550.73 238.19 L551.48 234.59 L552.23 230.95 L552.99 227.31 L553.74 223.73 L554.49 220.25 L555.24 216.91 L556.00 213.77 L556.75 210.82 L557.50 207.99 L558.25 205.24 L559.01 202.51 L559.76 199.74 L560.51 196.88 L561.26 193.91 L562.02 190.89 L562.77 187.90 L563.52 184.99 L564.27 182.25 L565.03 179.74 L565.78 177.52 L566.53 175.60 L567.28 173.99 L568.04 172.65 L568.79 171.59 L569.54 170.79 L570.29 170.23 L571.05 169.91 L571.80 169.80 L572.57 169.94 L573.33 170.32 L574.10 170.92 L574.87 171.69 L575.63 172.59 L576.40 173.59 L577.17 174.73 L577.93 176.07 L578.70 177.68 L579.47 179.61 L580.23 181.92 L581.00 184.58 L581.77 187.56 L582.53 190.81 L583.30 194.30 L584.07 197.98 L584.83 201.84 L585.60 205.85 L586.37 210.02 L587.13 214.34 L587.90 218.80 L588.67 223.38 L589.43 228.05 L590.20 232.79 L590.97 237.58 L591.73 242.39 L592.50 247.21 L593.27 252.04 L594.03 256.87 L594.80 261.70" fill="none" stroke="#1e7bb6" stroke-width="2.8" stroke-linecap="square" stroke-linejoin="round"/>
<path d="M246.70 294.82 L247.46 294.58 L248.21 294.34 L248.96 294.10 L249.71 293.86 L250.47 293.62 L251.22 293.38 L251.97 293.14 L252.72 292.90 L253.47 292.66 L254.23 292.42 L254.98 292.18 L255.73 291.94 L256.48 291.70 L257.24 291.46 L257.99 291.23 L258.74 290.99 L259.49 290.76 L260.24 290.52 L261.00 290.28 L261.75 290.05 L262.50 289.82 L263.25 289.58 L264.01 289.35 L264.76 289.12 L265.51 288.89 L266.26 288.66 L267.01 288.43 L267.77 288.20 L268.52 287.97 L269.27 287.75 L270.02 287.52 L270.77 287.30 L271.53 287.08 L272.28 286.86 L273.03 286.64 L273.78 286.43 L274.54 286.22 L275.29 286.02 L276.04 285.81 L276.79 285.62 L277.54 285.43 L278.30 285.24 L279.05 285.06 L279.80 284.88 L280.55 284.72 L281.31 284.55 L282.06 284.40 L282.81 284.25 L283.56 284.11 L284.31 283.98 L285.07 283.86 L285.82 283.74 L286.57 283.63 L287.32 283.53 L288.08 283.44 L288.83 283.35 L289.58 283.27 L290.33 283.19 L291.08 283.12 L291.84 283.05 L292.59 282.99 L293.34 282.93 L294.09 282.88 L294.85 282.82 L295.60 282.77 L296.35 282.73 L297.10 282.68 L297.85 282.64 L298.61 282.59 L299.36 282.55 L300.11 282.51 L300.86 282.46 L301.62 282.42 L302.37 282.37 L303.12 282.33 L303.87 282.28 L304.62 282.24 L305.38 282.19 L306.13 282.15 L306.88 282.10 L307.63 282.06 L308.39 282.01 L309.14 281.96 L309.89 281.91 L310.64 281.87 L311.39 281.82 L312.15 281.77 L312.90 281.72 L313.65 281.67 L314.40 281.62 L315.16 281.58 L315.91 281.53 L316.66 281.48 L317.41 281.43 L318.16 281.38 L318.92 281.32 L319.67 281.27 L320.42 281.22 L321.17 281.16 L321.93 281.11 L322.68 281.05 L323.43 280.98 L324.18 280.92 L324.93 280.85 L325.69 280.79 L326.44 280.71 L327.19 280.64 L327.94 280.56 L328.69 280.47 L329.45 280.39 L330.20 280.30 L330.95 280.20 L331.70 280.10 L332.46 279.99 L333.21 279.88 L333.96 279.77 L334.71 279.65 L335.46 279.53 L336.22 279.41 L336.97 279.29 L337.72 279.17 L338.47 279.05 L339.23 278.93 L339.98 278.82 L340.73 278.72 L341.48 278.62 L342.23 278.53 L342.99 278.45 L343.74 278.38 L344.49 278.32 L345.24 278.27 L346.00 278.23 L346.75 278.21 L347.50 278.20 L348.26 278.21 L349.02 278.24 L349.78 278.28 L350.54 278.35 L351.30 278.43 L352.06 278.53 L352.82 278.65 L353.58 278.78 L354.34 278.93 L355.10 279.10 L355.86 279.28 L356.62 279.48 L357.38 279.69 L358.14 279.92 L358.90 280.16 L359.66 280.41 L360.42 280.68 L361.18 280.96 L361.94 281.26 L362.70 281.57 L363.46 281.89 L364.22 282.22 L364.98 282.56 L365.74 282.91 L366.50 283.28 L367.26 283.65 L368.02 284.04 L368.78 284.43 L369.54 284.83 L370.30 285.25 L371.06 285.67 L371.82 286.10 L372.58 286.54 L373.34 286.98 L374.10 287.44 L374.86 287.89 L375.62 288.36 L376.38 288.82 L377.14 289.29 L377.90 289.77 L378.66 290.24 L379.42 290.71 L380.18 291.18 L380.94 291.65 L381.70 292.11 L382.46 292.57 L383.22 293.02 L383.98 293.47 L384.74 293.91 L385.50 294.34 L386.26 294.76 L387.02 295.16 L387.78 295.56 L388.54 295.94 L389.30 296.30 L390.06 296.65 L390.82 296.99 L391.58 297.30 L392.34 297.60 L393.10 297.88 L393.86 298.13 L394.62 298.37 L395.38 298.58 L396.14 298.76 L396.90 298.92 L397.66 299.06 L398.42 299.16 L399.18 299.24 L399.94 299.28 L400.70 299.30 L401.45 299.28 L402.21 299.23 L402.96 299.14 L403.71 299.01 L404.46 298.85 L405.22 298.66 L405.97 298.44 L406.72 298.18 L407.47 297.88 L408.23 297.56 L408.98 297.20 L409.73 296.82 L410.49 296.40 L411.24 295.95 L411.99 295.48 L412.74 294.97 L413.50 294.44 L414.25 293.88 L415.00 293.29 L415.75 292.67 L416.51 292.03 L417.26 291.36 L418.01 290.67 L418.77 289.95 L419.52 289.21 L420.27 288.44 L421.02 287.65 L421.78 286.84 L422.53 286.00 L423.28 285.14 L424.04 284.27 L424.79 283.37 L425.54 282.46 L426.29 281.54 L427.05 280.60 L427.80 279.65 L428.55 278.69 L429.30 277.72 L430.06 276.74 L430.81 275.76 L431.56 274.78 L432.32 273.79 L433.07 272.81 L433.82 271.82 L434.57 270.84 L435.33 269.86 L436.08 268.88 L436.83 267.92 L437.58 266.96 L438.34 266.01 L439.09 265.08 L439.84 264.16 L440.60 263.25 L441.35 262.35 L442.10 261.48 L442.85 260.62 L443.61 259.78 L444.36 258.96 L445.11 258.16 L445.86 257.38 L446.62 256.63 L447.37 255.91 L448.12 255.21 L448.88 254.54 L449.63 253.90 L450.38 253.29 L451.13 252.72 L451.89 252.17 L452.64 251.66 L453.39 251.17 L454.15 250.72 L454.90 250.30 L455.65 249.90 L456.40 249.53 L457.16 249.19 L457.91 248.87 L458.66 248.58 L459.41 248.32 L460.17 248.08 L460.92 247.86 L461.67 247.66 L462.43 247.49 L463.18 247.34 L463.93 247.21 L464.68 247.09 L465.44 247.00 L466.19 246.93 L466.94 246.87 L467.69 246.83 L468.45 246.81 L469.20 246.80 L469.96 246.81 L470.72 246.82 L471.49 246.85 L472.25 246.88 L473.01 246.93 L473.77 246.98 L474.53 247.05 L475.29 247.12 L476.06 247.19 L476.82 247.28 L477.58 247.37 L478.34 247.47 L479.10 247.57 L479.86 247.67 L480.63 247.79 L481.39 247.90 L482.15 248.02 L482.91 248.14 L483.67 248.27 L484.43 248.40 L485.20 248.52 L485.96 248.65 L486.72 248.78 L487.48 248.92 L488.24 249.05 L489.00 249.18 L489.77 249.30 L490.53 249.43 L491.29 249.56 L492.05 249.68 L492.81 249.80 L493.57 249.91 L494.34 250.03 L495.10 250.13 L495.86 250.23 L496.62 250.33 L497.38 250.42 L498.14 250.51 L498.91 250.58 L499.67 250.65 L500.43 250.72 L501.19 250.77 L501.95 250.82 L502.71 250.85 L503.48 250.88 L504.24 250.89 L505.00 250.90 L505.75 250.89 L506.50 250.87 L507.25 250.84 L508.00 250.79 L508.75 250.72 L509.50 250.63 L510.25 250.52 L511.00 250.39 L511.75 250.24 L512.50 250.06 L513.25 249.87 L514.00 249.64 L514.75 249.39 L515.50 249.11 L516.25 248.80 L517.00 248.47 L517.75 248.11 L518.50 247.72 L519.25 247.30 L520.00 246.86 L520.75 246.39 L521.50 245.90 L522.25 245.38 L523.00 244.84 L523.75 244.27 L524.50 243.68 L525.25 243.07 L526.00 242.43 L526.75 241.77 L527.50 241.09 L528.25 240.39 L529.00 239.67 L529.75 238.93 L530.50 238.18 L531.25 237.42 L532.00 236.66 L532.75 235.89 L533.50 235.12 L534.25 234.35 L535.00 233.59 L535.75 232.83 L536.50 232.08 L537.25 231.33 L538.00 230.57 L538.75 229.82 L539.50 229.06 L540.25 228.29 L541.00 227.52 L541.75 226.74 L542.50 225.94 L543.25 225.14 L544.00 224.32 L544.75 223.49 L545.50 222.64 L546.25 221.79 L547.00 220.92 L547.75 220.04 L548.50 219.15 L549.25 218.25 L550.00 217.34 L550.75 216.42 L551.50 215.50 L552.25 214.57 L553.00 213.63 L553.75 212.68 L554.50 211.73 L555.25 210.78 L556.00 209.82 L556.75 208.85 L557.50 207.88 L558.25 206.91 L559.00 205.94 L559.75 204.97 L560.50 204.00 L561.25 203.03 L562.00 202.06 L562.75 201.09 L563.50 200.12 L564.25 199.16 L565.00 198.21 L565.75 197.25 L566.50 196.31 L567.25 195.37 L568.00 194.44 L568.75 193.51 L569.50 192.60 L570.25 191.69 L571.00 190.80 L571.75 189.91 L572.50 189.04 L573.25 188.18 L574.00 187.34 L574.75 186.51 L575.50 185.69 L576.25 184.89 L577.00 184.10 L577.75 183.34 L578.50 182.59 L579.25 181.86 L580.00 181.14 L580.75 180.45 L581.50 179.77 L582.25 179.11 L583.00 178.47 L583.75 177.84 L584.50 177.22 L585.25 176.61 L586.00 176.02 L586.75 175.44 L587.50 174.87 L588.25 174.31 L589.00 173.75 L589.75 173.20 L590.50 172.66 L591.25 172.13 L592.00 171.60 L592.75 171.07 L593.50 170.54 L594.25 170.02 L595.00 169.50" fill="none" stroke="#ff2c00" stroke-width="2.8" stroke-linecap="square" stroke-linejoin="round"/>
<path d="M42.7 163.0 L42.7 305.7 L621.1 305.7" fill="none" stroke="#464646" stroke-width="1.35"/>
<line x1="621.1" x2="621.1" y1="163.0" y2="306.4" stroke="#ff4109" stroke-width="1.35"/>
<line x1="42.7" x2="45.300000000000004" y1="165.2" y2="165.2" stroke="#303030" stroke-width="0.95"/>
<text x="38.7" y="170.6" font-size="15.1" fill="#2b85be" text-anchor="end" textLength="20.36" lengthAdjust="spacingAndGlyphs">1.0</text>
<line x1="42.7" x2="45.300000000000004" y1="212.9" y2="212.9" stroke="#303030" stroke-width="0.95"/>
<text x="38.7" y="218.3" font-size="15.1" fill="#2b85be" text-anchor="end" textLength="20.36" lengthAdjust="spacingAndGlyphs">0.5</text>
<line x1="42.7" x2="45.300000000000004" y1="260.6" y2="260.6" stroke="#303030" stroke-width="0.95"/>
<text x="38.7" y="266.0" font-size="15.1" fill="#2b85be" text-anchor="end" textLength="20.36" lengthAdjust="spacingAndGlyphs">0.0</text>
<line x1="618.5" x2="621.1" y1="182.0" y2="182.0" stroke="#303030" stroke-width="0.95"/>
<text x="624.2" y="187.5" font-size="15.1" fill="#ff4109" text-anchor="start" textLength="27.22" lengthAdjust="spacingAndGlyphs">−50</text>
<line x1="618.5" x2="621.1" y1="234.3" y2="234.3" stroke="#303030" stroke-width="0.95"/>
<text x="624.2" y="239.8" font-size="15.1" fill="#ff4109" text-anchor="start" textLength="35.43" lengthAdjust="spacingAndGlyphs">−100</text>
<line x1="618.5" x2="621.1" y1="286.7" y2="286.7" stroke="#303030" stroke-width="0.95"/>
<text x="624.2" y="292.2" font-size="15.1" fill="#ff4109" text-anchor="start" textLength="35.43" lengthAdjust="spacingAndGlyphs">−150</text>
<line x1="69.0" x2="69.0" y1="305.7" y2="303.09999999999997" stroke="#303030" stroke-width="0.95"/>
<line x1="156.6" x2="156.6" y1="305.7" y2="303.09999999999997" stroke="#303030" stroke-width="0.95"/>
<line x1="244.1" x2="244.1" y1="305.7" y2="303.09999999999997" stroke="#303030" stroke-width="0.95"/>
<line x1="331.7" x2="331.7" y1="305.7" y2="303.09999999999997" stroke="#303030" stroke-width="0.95"/>
<line x1="419.3" x2="419.3" y1="305.7" y2="303.09999999999997" stroke="#303030" stroke-width="0.95"/>
<line x1="506.8" x2="506.8" y1="305.7" y2="303.09999999999997" stroke="#303030" stroke-width="0.95"/>
<line x1="594.4" x2="594.4" y1="305.7" y2="303.09999999999997" stroke="#303030" stroke-width="0.95"/>
<text x="12.7" y="236.3" font-size="15.8" fill="#2b85be" text-anchor="middle" textLength="85.83" lengthAdjust="spacingAndGlyphs" transform="rotate(-90 12.7 236.3)">Earthquake</text>
<text x="682.7" y="237.7" font-size="15.8" fill="#ff4109" text-anchor="middle" textLength="72.30" lengthAdjust="spacingAndGlyphs" transform="rotate(-90 682.7 237.7)">Sea Level</text>
<line x1="42.7" x2="621.1" y1="327.6" y2="327.6" stroke="#cdcdcd" stroke-width="0.75" stroke-dasharray="1.75 0.85"/>
<line x1="42.7" x2="621.1" y1="360.9" y2="360.9" stroke="#cdcdcd" stroke-width="0.75" stroke-dasharray="1.75 0.85"/>
<line x1="42.7" x2="621.1" y1="394.1" y2="394.1" stroke="#cdcdcd" stroke-width="0.75" stroke-dasharray="1.75 0.85"/>
<line x1="42.7" x2="621.1" y1="427.3" y2="427.3" stroke="#cdcdcd" stroke-width="0.75" stroke-dasharray="1.75 0.85"/>
<line x1="42.7" x2="621.1" y1="460.8" y2="460.8" stroke="#cdcdcd" stroke-width="0.75" stroke-dasharray="1.75 0.85"/>
<text x="54.0" y="332.9" font-size="15.9" fill="#111111" textLength="122.90" lengthAdjust="spacingAndGlyphs">r=0.41, p &lt;0.05</text>
<text x="47.0" y="355.7" font-size="19.4" fill="#111111" text-anchor="start" textLength="11.55" lengthAdjust="spacingAndGlyphs">c</text>
<path d="M69.10 454.70 L69.85 454.39 L70.60 454.05 L71.35 453.67 L72.10 453.24 L72.85 452.74 L73.60 452.16 L74.35 451.48 L75.10 450.70 L75.85 449.80 L76.60 448.79 L77.35 447.67 L78.10 446.44 L78.85 445.12 L79.60 443.71 L80.35 442.20 L81.10 440.62 L81.85 438.96 L82.60 437.23 L83.35 435.44 L84.10 433.58 L84.85 431.67 L85.60 429.71 L86.35 427.71 L87.10 425.67 L87.85 423.60 L88.60 421.51 L89.35 419.39 L90.10 417.26 L90.85 415.13 L91.60 412.99 L92.35 410.86 L93.10 408.75 L93.85 406.66 L94.60 404.60 L95.35 402.57 L96.10 400.58 L96.85 398.64 L97.60 396.75 L98.35 394.93 L99.10 393.17 L99.85 391.49 L100.60 389.87 L101.35 388.34 L102.10 386.87 L102.85 385.49 L103.60 384.19 L104.35 382.96 L105.10 381.82 L105.85 380.76 L106.60 379.78 L107.35 378.89 L108.10 378.09 L108.85 377.38 L109.60 376.76 L110.35 376.23 L111.10 375.79 L111.85 375.45 L112.60 375.20 L113.35 375.05 L114.10 375.00 L114.86 375.07 L115.62 375.29 L116.38 375.64 L117.15 376.12 L117.91 376.73 L118.67 377.46 L119.43 378.32 L120.19 379.28 L120.95 380.36 L121.71 381.55 L122.48 382.83 L123.24 384.22 L124.00 385.70 L124.76 387.26 L125.52 388.89 L126.28 390.57 L127.04 392.29 L127.81 394.01 L128.57 395.77 L129.33 397.59 L130.09 399.47 L130.85 401.45 L131.61 403.51 L132.37 405.64 L133.14 407.83 L133.90 410.06 L134.66 412.33 L135.42 414.61 L136.18 416.88 L136.94 419.14 L137.70 421.37 L138.46 423.56 L139.23 425.68 L139.99 427.73 L140.75 429.72 L141.51 431.63 L142.27 433.47 L143.03 435.23 L143.79 436.92 L144.56 438.53 L145.32 440.06 L146.08 441.51 L146.84 442.88 L147.60 444.16 L148.36 445.36 L149.12 446.47 L149.89 447.49 L150.65 448.42 L151.41 449.26 L152.17 450.01 L152.93 450.66 L153.69 451.22 L154.45 451.67 L155.22 452.03 L155.98 452.29 L156.74 452.45 L157.50 452.50 L158.26 452.44 L159.01 452.28 L159.77 452.01 L160.52 451.64 L161.28 451.18 L162.04 450.63 L162.79 449.99 L163.55 449.26 L164.31 448.46 L165.06 447.58 L165.82 446.64 L166.57 445.63 L167.33 444.56 L168.09 443.43 L168.84 442.25 L169.60 441.02 L170.35 439.75 L171.11 438.43 L171.87 437.09 L172.62 435.71 L173.38 434.31 L174.14 432.88 L174.89 431.43 L175.65 429.98 L176.40 428.51 L177.16 427.04 L177.92 425.56 L178.67 424.09 L179.43 422.63 L180.18 421.18 L180.94 419.74 L181.70 418.32 L182.45 416.91 L183.21 415.53 L183.96 414.17 L184.72 412.84 L185.48 411.54 L186.23 410.27 L186.99 409.05 L187.75 407.86 L188.50 406.71 L189.26 405.61 L190.01 404.56 L190.77 403.56 L191.53 402.62 L192.28 401.74 L193.04 400.91 L193.79 400.15 L194.55 399.46 L195.31 398.84 L196.06 398.29 L196.82 397.82 L197.58 397.42 L198.33 397.11 L199.09 396.88 L199.84 396.75 L200.60 396.70 L201.36 396.74 L202.11 396.87 L202.87 397.08 L203.63 397.36 L204.39 397.72 L205.14 398.14 L205.90 398.63 L206.66 399.18 L207.41 399.78 L208.17 400.44 L208.93 401.14 L209.69 401.88 L210.44 402.67 L211.20 403.49 L211.96 404.34 L212.71 405.21 L213.47 406.11 L214.23 407.03 L214.99 407.96 L215.74 408.91 L216.50 409.86 L217.26 410.81 L218.01 411.77 L218.77 412.71 L219.53 413.65 L220.29 414.58 L221.04 415.49 L221.80 416.38 L222.56 417.24 L223.31 418.07 L224.07 418.87 L224.83 419.64 L225.59 420.37 L226.34 421.07 L227.10 421.74 L227.86 422.39 L228.61 423.01 L229.37 423.60 L230.13 424.17 L230.89 424.73 L231.64 425.26 L232.40 425.77 L233.16 426.25 L233.91 426.71 L234.67 427.15 L235.43 427.56 L236.19 427.95 L236.94 428.31 L237.70 428.63 L238.46 428.93 L239.21 429.18 L239.97 429.40 L240.73 429.57 L241.49 429.70 L242.24 429.77 L243.00 429.80 L243.75 429.78 L244.50 429.72 L245.25 429.63 L246.00 429.51 L246.75 429.35 L247.51 429.17 L248.26 428.97 L249.01 428.74 L249.76 428.49 L250.51 428.23 L251.26 427.95 L252.01 427.66 L252.76 427.36 L253.51 427.05 L254.26 426.74 L255.01 426.42 L255.77 426.11 L256.52 425.80 L257.27 425.49 L258.02 425.19 L258.77 424.90 L259.52 424.63 L260.27 424.36 L261.02 424.10 L261.77 423.86 L262.52 423.62 L263.27 423.40 L264.03 423.18 L264.78 422.98 L265.53 422.78 L266.28 422.60 L267.03 422.43 L267.78 422.27 L268.53 422.11 L269.28 421.97 L270.03 421.84 L270.78 421.72 L271.54 421.61 L272.29 421.51 L273.04 421.43 L273.79 421.35 L274.54 421.28 L275.29 421.22 L276.04 421.17 L276.79 421.13 L277.54 421.09 L278.29 421.06 L279.04 421.02 L279.80 420.99 L280.55 420.95 L281.30 420.91 L282.05 420.87 L282.80 420.81 L283.55 420.75 L284.30 420.68 L285.05 420.59 L285.80 420.49 L286.55 420.38 L287.30 420.24 L288.06 420.09 L288.81 419.91 L289.56 419.72 L290.31 419.50 L291.06 419.27 L291.81 419.01 L292.56 418.74 L293.31 418.45 L294.06 418.14 L294.81 417.81 L295.56 417.47 L296.32 417.11 L297.07 416.73 L297.82 416.33 L298.57 415.92 L299.32 415.50 L300.07 415.06 L300.82 414.60 L301.57 414.14 L302.32 413.66 L303.07 413.16 L303.83 412.66 L304.58 412.15 L305.33 411.63 L306.08 411.12 L306.83 410.60 L307.58 410.09 L308.33 409.59 L309.08 409.09 L309.83 408.61 L310.58 408.14 L311.33 407.68 L312.09 407.25 L312.84 406.84 L313.59 406.45 L314.34 406.09 L315.09 405.75 L315.84 405.43 L316.59 405.14 L317.34 404.87 L318.09 404.63 L318.84 404.42 L319.59 404.23 L320.35 404.07 L321.10 403.94 L321.85 403.83 L322.60 403.76 L323.35 403.72 L324.10 403.70 L324.86 403.72 L325.63 403.79 L326.39 403.90 L327.15 404.06 L327.92 404.27 L328.68 404.52 L329.44 404.81 L330.21 405.16 L330.97 405.55 L331.73 405.98 L332.50 406.46 L333.26 406.99 L334.03 407.57 L334.79 408.20 L335.55 408.88 L336.32 409.61 L337.08 410.40 L337.84 411.24 L338.61 412.15 L339.37 413.11 L340.13 414.13 L340.90 415.21 L341.66 416.35 L342.42 417.52 L343.19 418.72 L343.95 419.94 L344.71 421.15 L345.48 422.35 L346.24 423.52 L347.00 424.64 L347.77 425.71 L348.53 426.71 L349.29 427.65 L350.06 428.53 L350.82 429.35 L351.58 430.11 L352.35 430.81 L353.11 431.46 L353.88 432.06 L354.64 432.60 L355.40 433.09 L356.17 433.53 L356.93 433.93 L357.69 434.27 L358.46 434.57 L359.22 434.83 L359.98 435.04 L360.75 435.21 L361.51 435.34 L362.27 435.43 L363.04 435.48 L363.80 435.50 L364.55 435.46 L365.30 435.34 L366.06 435.15 L366.81 434.90 L367.56 434.57 L368.31 434.18 L369.06 433.74 L369.82 433.23 L370.57 432.68 L371.32 432.08 L372.07 431.43 L372.82 430.74 L373.58 430.02 L374.33 429.26 L375.08 428.46 L375.83 427.65 L376.58 426.80 L377.34 425.94 L378.09 425.06 L378.84 424.17 L379.59 423.27 L380.34 422.35 L381.10 421.44 L381.85 420.52 L382.60 419.60 L383.35 418.68 L384.10 417.77 L384.86 416.87 L385.61 415.98 L386.36 415.10 L387.11 414.24 L387.86 413.40 L388.62 412.58 L389.37 411.78 L390.12 411.02 L390.87 410.28 L391.62 409.57 L392.38 408.90 L393.13 408.27 L393.88 407.68 L394.63 407.13 L395.38 406.63 L396.14 406.17 L396.89 405.77 L397.64 405.43 L398.39 405.14 L399.14 404.91 L399.90 404.74 L400.65 404.63 L401.40 404.60 L402.15 404.65 L402.90 404.80 L403.66 405.03 L404.41 405.34 L405.16 405.73 L405.91 406.17 L406.66 406.67 L407.42 407.21 L408.17 407.80 L408.92 408.41 L409.67 409.04 L410.42 409.69 L411.18 410.36 L411.93 411.05 L412.68 411.74 L413.43 412.44 L414.19 413.15 L414.94 413.85 L415.69 414.55 L416.44 415.25 L417.19 415.93 L417.95 416.60 L418.70 417.26 L419.45 417.90 L420.20 418.52 L420.95 419.13 L421.71 419.72 L422.46 420.29 L423.21 420.84 L423.96 421.36 L424.71 421.86 L425.47 422.34 L426.22 422.79 L426.97 423.22 L427.72 423.62 L428.48 424.00 L429.23 424.35 L429.98 424.67 L430.73 424.97 L431.48 425.24 L432.24 425.48 L432.99 425.70 L433.74 425.88 L434.49 426.03 L435.24 426.15 L436.00 426.23 L436.75 426.28 L437.50 426.30 L438.26 426.28 L439.02 426.23 L439.78 426.15 L440.54 426.03 L441.30 425.89 L442.06 425.71 L442.81 425.51 L443.57 425.28 L444.33 425.03 L445.09 424.76 L445.85 424.46 L446.61 424.14 L447.37 423.80 L448.13 423.44 L448.89 423.06 L449.65 422.67 L450.41 422.26 L451.17 421.84 L451.93 421.41 L452.69 420.97 L453.44 420.51 L454.20 420.05 L454.96 419.59 L455.72 419.11 L456.48 418.64 L457.24 418.16 L458.00 417.68 L458.76 417.20 L459.52 416.72 L460.28 416.24 L461.04 415.76 L461.80 415.30 L462.56 414.83 L463.31 414.38 L464.07 413.94 L464.83 413.50 L465.59 413.08 L466.35 412.67 L467.11 412.28 L467.87 411.90 L468.63 411.54 L469.39 411.19 L470.15 410.87 L470.91 410.57 L471.67 410.29 L472.43 410.03 L473.19 409.80 L473.94 409.60 L474.70 409.42 L475.46 409.27 L476.22 409.15 L476.98 409.07 L477.74 409.02 L478.50 409.00 L479.25 409.02 L480.00 409.07 L480.76 409.15 L481.51 409.27 L482.26 409.43 L483.01 409.61 L483.77 409.83 L484.52 410.09 L485.27 410.38 L486.02 410.70 L486.78 411.06 L487.53 411.45 L488.28 411.88 L489.03 412.34 L489.78 412.84 L490.54 413.37 L491.29 413.93 L492.04 414.53 L492.79 415.16 L493.55 415.83 L494.30 416.53 L495.05 417.27 L495.80 418.04 L496.56 418.84 L497.31 419.68 L498.06 420.56 L498.81 421.47 L499.56 422.41 L500.32 423.39 L501.07 424.40 L501.82 425.45 L502.57 426.52 L503.33 427.62 L504.08 428.74 L504.83 429.89 L505.58 431.05 L506.34 432.22 L507.09 433.41 L507.84 434.60 L508.59 435.80 L509.34 437.00 L510.10 438.20 L510.85 439.40 L511.60 440.59 L512.35 441.78 L513.11 442.95 L513.86 444.10 L514.61 445.24 L515.36 446.35 L516.12 447.43 L516.87 448.48 L517.62 449.48 L518.37 450.45 L519.12 451.36 L519.88 452.23 L520.63 453.03 L521.38 453.77 L522.13 454.44 L522.89 455.04 L523.64 455.55 L524.39 455.99 L525.14 456.34 L525.90 456.59 L526.65 456.75 L527.40 456.80 L528.15 456.71 L528.91 456.44 L529.66 456.00 L530.41 455.39 L531.16 454.63 L531.92 453.72 L532.67 452.67 L533.42 451.49 L534.17 450.18 L534.93 448.75 L535.68 447.21 L536.43 445.57 L537.18 443.82 L537.94 441.97 L538.69 440.02 L539.44 437.97 L540.19 435.83 L540.95 433.59 L541.70 431.26 L542.45 428.84 L543.20 426.33 L543.96 423.73 L544.71 421.05 L545.46 418.27 L546.21 415.40 L546.97 412.43 L547.72 409.36 L548.47 406.18 L549.22 402.89 L549.98 399.50 L550.73 395.99 L551.48 392.39 L552.23 388.75 L552.99 385.11 L553.74 381.53 L554.49 378.05 L555.24 374.71 L556.00 371.57 L556.75 368.62 L557.50 365.79 L558.25 363.04 L559.01 360.31 L559.76 357.54 L560.51 354.68 L561.26 351.71 L562.02 348.69 L562.77 345.70 L563.52 342.79 L564.27 340.05 L565.03 337.54 L565.78 335.32 L566.53 333.40 L567.28 331.79 L568.04 330.45 L568.79 329.39 L569.54 328.59 L570.29 328.03 L571.05 327.71 L571.80 327.60 L572.57 327.74 L573.33 328.12 L574.10 328.72 L574.87 329.49 L575.63 330.39 L576.40 331.39 L577.17 332.53 L577.93 333.87 L578.70 335.48 L579.47 337.41 L580.23 339.72 L581.00 342.38 L581.77 345.36 L582.53 348.61 L583.30 352.10 L584.07 355.78 L584.83 359.64 L585.60 363.65 L586.37 367.82 L587.13 372.14 L587.90 376.60 L588.67 381.18 L589.43 385.85 L590.20 390.59 L590.97 395.38 L591.73 400.19 L592.50 405.01 L593.27 409.84 L594.03 414.67 L594.80 419.50" fill="none" stroke="#1e7bb6" stroke-width="2.8" stroke-linecap="square" stroke-linejoin="round"/>
<path d="M68.30 401.50 L69.05 401.04 L69.80 400.58 L70.55 400.12 L71.31 399.66 L72.06 399.21 L72.81 398.77 L73.56 398.33 L74.31 397.90 L75.06 397.48 L75.82 397.07 L76.57 396.67 L77.32 396.29 L78.07 395.92 L78.82 395.56 L79.57 395.22 L80.33 394.90 L81.08 394.59 L81.83 394.30 L82.58 394.02 L83.33 393.76 L84.08 393.52 L84.84 393.30 L85.59 393.10 L86.34 392.92 L87.09 392.76 L87.84 392.62 L88.59 392.51 L89.35 392.42 L90.10 392.35 L90.85 392.31 L91.60 392.30 L92.35 392.32 L93.10 392.36 L93.85 392.44 L94.60 392.55 L95.35 392.70 L96.10 392.88 L96.85 393.09 L97.61 393.34 L98.36 393.62 L99.11 393.93 L99.86 394.28 L100.61 394.67 L101.36 395.08 L102.11 395.52 L102.86 396.00 L103.61 396.49 L104.36 397.01 L105.11 397.55 L105.86 398.12 L106.61 398.70 L107.36 399.31 L108.11 399.93 L108.86 400.57 L109.62 401.23 L110.37 401.90 L111.12 402.59 L111.87 403.30 L112.62 404.03 L113.37 404.77 L114.12 405.52 L114.87 406.29 L115.62 407.07 L116.37 407.87 L117.12 408.68 L117.87 409.52 L118.62 410.36 L119.37 411.22 L120.12 412.10 L120.87 413.00 L121.63 413.91 L122.38 414.84 L123.13 415.79 L123.88 416.75 L124.63 417.73 L125.38 418.71 L126.13 419.69 L126.88 420.68 L127.63 421.66 L128.38 422.63 L129.13 423.60 L129.88 424.55 L130.63 425.48 L131.38 426.39 L132.13 427.27 L132.88 428.13 L133.64 428.96 L134.39 429.76 L135.14 430.53 L135.89 431.27 L136.64 431.98 L137.39 432.66 L138.14 433.31 L138.89 433.92 L139.64 434.50 L140.39 435.05 L141.14 435.56 L141.89 436.04 L142.64 436.49 L143.39 436.90 L144.14 437.27 L144.89 437.61 L145.65 437.91 L146.40 438.17 L147.15 438.39 L147.90 438.57 L148.65 438.71 L149.40 438.82 L150.15 438.88 L150.90 438.90 L151.66 438.89 L152.41 438.86 L153.17 438.81 L153.92 438.73 L154.68 438.63 L155.43 438.51 L156.19 438.35 L156.94 438.16 L157.70 437.94 L158.46 437.69 L159.21 437.40 L159.97 437.07 L160.72 436.70 L161.48 436.29 L162.23 435.84 L162.99 435.34 L163.74 434.80 L164.50 434.21 L165.26 433.57 L166.01 432.87 L166.77 432.12 L167.52 431.32 L168.28 430.46 L169.03 429.54 L169.79 428.56 L170.54 427.52 L171.30 426.42 L172.06 425.25 L172.81 424.02 L173.57 422.74 L174.32 421.41 L175.08 420.04 L175.83 418.61 L176.59 417.15 L177.34 415.65 L178.10 414.12 L178.86 412.55 L179.61 410.96 L180.37 409.35 L181.12 407.72 L181.88 406.07 L182.63 404.41 L183.39 402.74 L184.14 401.07 L184.90 399.39 L185.66 397.72 L186.41 396.05 L187.17 394.39 L187.92 392.74 L188.68 391.11 L189.43 389.49 L190.19 387.89 L190.94 386.31 L191.70 384.74 L192.46 383.20 L193.21 381.67 L193.97 380.17 L194.72 378.69 L195.48 377.24 L196.23 375.81 L196.99 374.40 L197.74 373.03 L198.50 371.68 L199.26 370.36 L200.01 369.08 L200.77 367.82 L201.52 366.60 L202.28 365.41 L203.03 364.26 L203.79 363.15 L204.54 362.07 L205.30 361.03 L206.06 360.04 L206.81 359.08 L207.57 358.16 L208.32 357.28 L209.08 356.44 L209.83 355.64 L210.59 354.88 L211.34 354.16 L212.10 353.48 L212.86 352.84 L213.61 352.23 L214.37 351.66 L215.12 351.13 L215.88 350.64 L216.63 350.19 L217.39 349.77 L218.14 349.39 L218.90 349.05 L219.66 348.74 L220.41 348.47 L221.17 348.24 L221.92 348.04 L222.68 347.88 L223.43 347.76 L224.19 347.67 L224.94 347.62 L225.70 347.60 L226.46 347.62 L227.21 347.67 L227.97 347.75 L228.73 347.87 L229.49 348.02 L230.24 348.22 L231.00 348.45 L231.76 348.71 L232.52 349.02 L233.27 349.37 L234.03 349.75 L234.79 350.18 L235.55 350.65 L236.30 351.17 L237.06 351.73 L237.82 352.33 L238.57 352.98 L239.33 353.68 L240.09 354.42 L240.85 355.22 L241.60 356.06 L242.36 356.95 L243.12 357.89 L243.88 358.89 L244.63 359.93 L245.39 361.03 L246.15 362.19 L246.90 363.39 L247.66 364.64 L248.42 365.93 L249.18 367.26 L249.93 368.63 L250.69 370.03 L251.45 371.45 L252.21 372.90 L252.96 374.37 L253.72 375.86 L254.48 377.37 L255.24 378.88 L255.99 380.40 L256.75 381.92 L257.51 383.44 L258.26 384.95 L259.02 386.46 L259.78 387.96 L260.54 389.44 L261.29 390.90 L262.05 392.34 L262.81 393.75 L263.57 395.13 L264.32 396.48 L265.08 397.80 L265.84 399.08 L266.60 400.34 L267.35 401.55 L268.11 402.73 L268.87 403.88 L269.62 404.99 L270.38 406.06 L271.14 407.10 L271.90 408.10 L272.65 409.05 L273.41 409.97 L274.17 410.85 L274.93 411.69 L275.68 412.48 L276.44 413.23 L277.20 413.94 L277.95 414.60 L278.71 415.22 L279.47 415.79 L280.23 416.32 L280.98 416.80 L281.74 417.24 L282.50 417.62 L283.26 417.96 L284.01 418.24 L284.77 418.48 L285.53 418.66 L286.29 418.79 L287.04 418.87 L287.80 418.90 L288.56 418.87 L289.31 418.77 L290.07 418.61 L290.83 418.39 L291.58 418.11 L292.34 417.78 L293.10 417.38 L293.85 416.93 L294.61 416.42 L295.37 415.86 L296.12 415.24 L296.88 414.57 L297.64 413.86 L298.40 413.09 L299.15 412.27 L299.91 411.41 L300.67 410.50 L301.42 409.55 L302.18 408.55 L302.94 407.51 L303.69 406.43 L304.45 405.31 L305.21 404.15 L305.96 402.95 L306.72 401.71 L307.48 400.44 L308.23 399.14 L308.99 397.80 L309.75 396.43 L310.50 395.03 L311.26 393.60 L312.02 392.15 L312.77 390.67 L313.53 389.16 L314.29 387.64 L315.04 386.10 L315.80 384.55 L316.56 382.99 L317.31 381.42 L318.07 379.85 L318.83 378.27 L319.59 376.70 L320.34 375.13 L321.10 373.57 L321.86 372.02 L322.61 370.48 L323.37 368.96 L324.13 367.46 L324.88 365.98 L325.64 364.53 L326.40 363.10 L327.15 361.71 L327.91 360.35 L328.67 359.02 L329.42 357.74 L330.18 356.49 L330.94 355.27 L331.69 354.10 L332.45 352.97 L333.21 351.88 L333.96 350.83 L334.72 349.83 L335.48 348.87 L336.23 347.95 L336.99 347.08 L337.75 346.25 L338.50 345.47 L339.26 344.74 L340.02 344.06 L340.78 343.43 L341.53 342.85 L342.29 342.32 L343.05 341.84 L343.80 341.42 L344.56 341.05 L345.32 340.73 L346.07 340.47 L346.83 340.27 L347.59 340.12 L348.34 340.03 L349.10 340.00 L349.85 340.03 L350.61 340.13 L351.36 340.30 L352.11 340.52 L352.87 340.81 L353.62 341.15 L354.37 341.56 L355.13 342.01 L355.88 342.52 L356.63 343.09 L357.39 343.70 L358.14 344.36 L358.89 345.07 L359.65 345.82 L360.40 346.62 L361.15 347.46 L361.91 348.33 L362.66 349.25 L363.41 350.20 L364.17 351.18 L364.92 352.20 L365.67 353.25 L366.43 354.33 L367.18 355.43 L367.93 356.56 L368.69 357.71 L369.44 358.89 L370.19 360.09 L370.95 361.30 L371.70 362.53 L372.45 363.79 L373.21 365.06 L373.96 366.36 L374.71 367.69 L375.47 369.06 L376.22 370.45 L376.97 371.88 L377.73 373.34 L378.48 374.85 L379.23 376.40 L379.99 377.99 L380.74 379.61 L381.49 381.26 L382.25 382.94 L383.00 384.63 L383.75 386.33 L384.51 388.04 L385.26 389.75 L386.01 391.45 L386.77 393.14 L387.52 394.81 L388.27 396.46 L389.03 398.11 L389.78 399.76 L390.53 401.41 L391.29 403.07 L392.04 404.76 L392.79 406.48 L393.55 408.24 L394.30 410.03 L395.05 411.84 L395.81 413.67 L396.56 415.51 L397.31 417.35 L398.07 419.19 L398.82 421.01 L399.57 422.82 L400.33 424.60 L401.08 426.34 L401.83 428.05 L402.59 429.71 L403.34 431.32 L404.09 432.89 L404.85 434.41 L405.60 435.89 L406.35 437.32 L407.11 438.70 L407.86 440.04 L408.61 441.32 L409.37 442.56 L410.12 443.75 L410.87 444.90 L411.63 445.99 L412.38 447.03 L413.13 448.02 L413.89 448.96 L414.64 449.85 L415.39 450.69 L416.15 451.47 L416.90 452.20 L417.65 452.88 L418.41 453.50 L419.16 454.07 L419.91 454.59 L420.67 455.06 L421.42 455.48 L422.17 455.85 L422.93 456.17 L423.68 456.45 L424.43 456.68 L425.19 456.87 L425.94 457.02 L426.69 457.12 L427.45 457.18 L428.20 457.20 L428.96 457.18 L429.72 457.11 L430.47 457.01 L431.23 456.85 L431.99 456.65 L432.75 456.40 L433.51 456.11 L434.27 455.76 L435.02 455.36 L435.78 454.91 L436.54 454.41 L437.30 453.85 L438.06 453.23 L438.82 452.56 L439.57 451.83 L440.33 451.04 L441.09 450.19 L441.85 449.30 L442.61 448.36 L443.37 447.38 L444.12 446.36 L444.88 445.30 L445.64 444.21 L446.40 443.10 L447.16 441.97 L447.92 440.81 L448.68 439.64 L449.43 438.46 L450.19 437.27 L450.95 436.08 L451.71 434.88 L452.47 433.68 L453.23 432.49 L453.98 431.30 L454.74 430.12 L455.50 428.96 L456.26 427.81 L457.02 426.68 L457.77 425.58 L458.53 424.49 L459.29 423.43 L460.05 422.40 L460.81 421.39 L461.57 420.42 L462.32 419.47 L463.08 418.56 L463.84 417.68 L464.60 416.84 L465.36 416.03 L466.12 415.26 L466.88 414.53 L467.63 413.83 L468.39 413.17 L469.15 412.55 L469.91 411.97 L470.67 411.42 L471.43 410.91 L472.18 410.43 L472.94 409.99 L473.70 409.58 L474.46 409.21 L475.22 408.87 L475.98 408.57 L476.73 408.30 L477.49 408.06 L478.25 407.86 L479.01 407.68 L479.77 407.55 L480.53 407.44 L481.28 407.36 L482.04 407.32 L482.80 407.30 L483.56 407.32 L484.31 407.38 L485.07 407.47 L485.82 407.59 L486.58 407.75 L487.33 407.93 L488.09 408.14 L488.84 408.37 L489.60 408.63 L490.35 408.91 L491.11 409.21 L491.86 409.52 L492.62 409.85 L493.37 410.19 L494.13 410.54 L494.88 410.90 L495.64 411.26 L496.39 411.63 L497.15 412.00 L497.91 412.37 L498.66 412.74 L499.42 413.10 L500.17 413.46 L500.93 413.81 L501.68 414.15 L502.44 414.48 L503.19 414.79 L503.95 415.09 L504.70 415.37 L505.46 415.63 L506.21 415.86 L506.97 416.07 L507.72 416.25 L508.48 416.41 L509.23 416.53 L509.99 416.62 L510.74 416.68 L511.50 416.70 L512.25 416.67 L513.01 416.57 L513.76 416.41 L514.51 416.19 L515.27 415.90 L516.02 415.56 L516.77 415.15 L517.53 414.69 L518.28 414.18 L519.03 413.60 L519.78 412.98 L520.54 412.30 L521.29 411.57 L522.04 410.79 L522.80 409.96 L523.55 409.08 L524.30 408.15 L525.06 407.18 L525.81 406.17 L526.56 405.11 L527.32 404.01 L528.07 402.87 L528.82 401.69 L529.58 400.47 L530.33 399.21 L531.08 397.92 L531.84 396.59 L532.59 395.23 L533.34 393.84 L534.09 392.41 L534.85 390.96 L535.60 389.47 L536.35 387.97 L537.11 386.43 L537.86 384.88 L538.61 383.30 L539.37 381.70 L540.12 380.08 L540.87 378.45 L541.63 376.80 L542.38 375.14 L543.13 373.47 L543.89 371.79 L544.64 370.10 L545.39 368.40 L546.15 366.69 L546.90 364.99 L547.65 363.28 L548.41 361.57 L549.16 359.86 L549.91 358.16 L550.66 356.46 L551.42 354.78 L552.17 353.11 L552.92 351.46 L553.68 349.83 L554.43 348.23 L555.18 346.66 L555.94 345.13 L556.69 343.63 L557.44 342.18 L558.20 340.77 L558.95 339.41 L559.70 338.10 L560.46 336.85 L561.21 335.66 L561.96 334.54 L562.72 333.48 L563.47 332.50 L564.22 331.59 L564.97 330.76 L565.73 330.02 L566.48 329.36 L567.23 328.79 L567.99 328.32 L568.74 327.94 L569.49 327.67 L570.25 327.51 L571.00 327.45 L571.77 327.50 L572.54 327.66 L573.30 327.91 L574.07 328.26 L574.84 328.70 L575.61 329.23 L576.37 329.84 L577.14 330.55 L577.91 331.33 L578.68 332.19 L579.45 333.12 L580.21 334.12 L580.98 335.20 L581.75 336.34 L582.52 337.54 L583.28 338.80 L584.05 340.12 L584.82 341.51 L585.59 342.96 L586.35 344.48 L587.12 346.08 L587.89 347.75 L588.66 349.50 L589.43 351.33 L590.19 353.24 L590.96 355.23 L591.73 357.29 L592.50 359.40 L593.26 361.54 L594.03 363.71 L594.80 365.90" fill="none" stroke="#ff2c00" stroke-width="2.8" stroke-linecap="square" stroke-linejoin="round"/>
<path d="M42.7 321.0 L42.7 463.3 L621.1 463.3" fill="none" stroke="#464646" stroke-width="1.35"/>
<line x1="621.1" x2="621.1" y1="321.0" y2="464.0" stroke="#ff4109" stroke-width="1.35"/>
<line x1="42.7" x2="45.300000000000004" y1="323.0" y2="323.0" stroke="#303030" stroke-width="0.95"/>
<text x="38.7" y="328.4" font-size="15.1" fill="#2b85be" text-anchor="end" textLength="20.36" lengthAdjust="spacingAndGlyphs">1.0</text>
<line x1="42.7" x2="45.300000000000004" y1="370.7" y2="370.7" stroke="#303030" stroke-width="0.95"/>
<text x="38.7" y="376.1" font-size="15.1" fill="#2b85be" text-anchor="end" textLength="20.36" lengthAdjust="spacingAndGlyphs">0.5</text>
<line x1="42.7" x2="45.300000000000004" y1="418.4" y2="418.4" stroke="#303030" stroke-width="0.95"/>
<text x="38.7" y="423.8" font-size="15.1" fill="#2b85be" text-anchor="end" textLength="20.36" lengthAdjust="spacingAndGlyphs">0.0</text>
<line x1="618.5" x2="621.1" y1="327.6" y2="327.6" stroke="#303030" stroke-width="0.95"/>
<text x="624.2" y="333.1" font-size="15.1" fill="#ff4109" text-anchor="start" textLength="28.72" lengthAdjust="spacingAndGlyphs">0.50</text>
<line x1="618.5" x2="621.1" y1="360.9" y2="360.9" stroke="#303030" stroke-width="0.95"/>
<text x="624.2" y="366.4" font-size="15.1" fill="#ff4109" text-anchor="start" textLength="28.72" lengthAdjust="spacingAndGlyphs">0.25</text>
<line x1="618.5" x2="621.1" y1="394.1" y2="394.1" stroke="#303030" stroke-width="0.95"/>
<text x="624.2" y="399.6" font-size="15.1" fill="#ff4109" text-anchor="start" textLength="28.72" lengthAdjust="spacingAndGlyphs">0.00</text>
<line x1="618.5" x2="621.1" y1="427.3" y2="427.3" stroke="#303030" stroke-width="0.95"/>
<text x="624.2" y="432.8" font-size="15.1" fill="#ff4109" text-anchor="start" textLength="39.53" lengthAdjust="spacingAndGlyphs">−0.25</text>
<line x1="618.5" x2="621.1" y1="460.8" y2="460.8" stroke="#303030" stroke-width="0.95"/>
<text x="624.2" y="466.3" font-size="15.1" fill="#ff4109" text-anchor="start" textLength="39.53" lengthAdjust="spacingAndGlyphs">−0.50</text>
<line x1="69.0" x2="69.0" y1="463.3" y2="460.7" stroke="#303030" stroke-width="0.95"/>
<line x1="156.6" x2="156.6" y1="463.3" y2="460.7" stroke="#303030" stroke-width="0.95"/>
<line x1="244.1" x2="244.1" y1="463.3" y2="460.7" stroke="#303030" stroke-width="0.95"/>
<line x1="331.7" x2="331.7" y1="463.3" y2="460.7" stroke="#303030" stroke-width="0.95"/>
<line x1="419.3" x2="419.3" y1="463.3" y2="460.7" stroke="#303030" stroke-width="0.95"/>
<line x1="506.8" x2="506.8" y1="463.3" y2="460.7" stroke="#303030" stroke-width="0.95"/>
<line x1="594.4" x2="594.4" y1="463.3" y2="460.7" stroke="#303030" stroke-width="0.95"/>
<text x="12.7" y="394.1" font-size="15.8" fill="#2b85be" text-anchor="middle" textLength="85.83" lengthAdjust="spacingAndGlyphs" transform="rotate(-90 12.7 394.1)">Earthquake</text>
<text x="683.0" y="394.1" font-size="15.8" fill="#ff4109" text-anchor="middle" textLength="29.03" lengthAdjust="spacingAndGlyphs" transform="rotate(-90 683.0 394.1)">Dec</text>
<text x="71.6" y="478.1" font-size="14.4" fill="#333333" text-anchor="middle" textLength="33.08" lengthAdjust="spacingAndGlyphs">1600</text>
<text x="158.4" y="478.1" font-size="14.4" fill="#333333" text-anchor="middle" textLength="33.08" lengthAdjust="spacingAndGlyphs">1650</text>
<text x="245.0" y="478.1" font-size="14.4" fill="#333333" text-anchor="middle" textLength="33.08" lengthAdjust="spacingAndGlyphs">1700</text>
<text x="331.5" y="478.1" font-size="14.4" fill="#333333" text-anchor="middle" textLength="33.08" lengthAdjust="spacingAndGlyphs">1750</text>
<text x="418.0" y="478.1" font-size="14.4" fill="#333333" text-anchor="middle" textLength="33.08" lengthAdjust="spacingAndGlyphs">1800</text>
<text x="504.6" y="478.1" font-size="14.4" fill="#333333" text-anchor="middle" textLength="33.08" lengthAdjust="spacingAndGlyphs">1850</text>
<text x="590.5" y="478.1" font-size="14.4" fill="#333333" text-anchor="middle" textLength="33.08" lengthAdjust="spacingAndGlyphs">1900</text>
<text x="331.0" y="495.1" font-size="14.4" fill="#333333" text-anchor="middle" textLength="31.33" lengthAdjust="spacingAndGlyphs">Year</text>
</svg>
</body></html>
